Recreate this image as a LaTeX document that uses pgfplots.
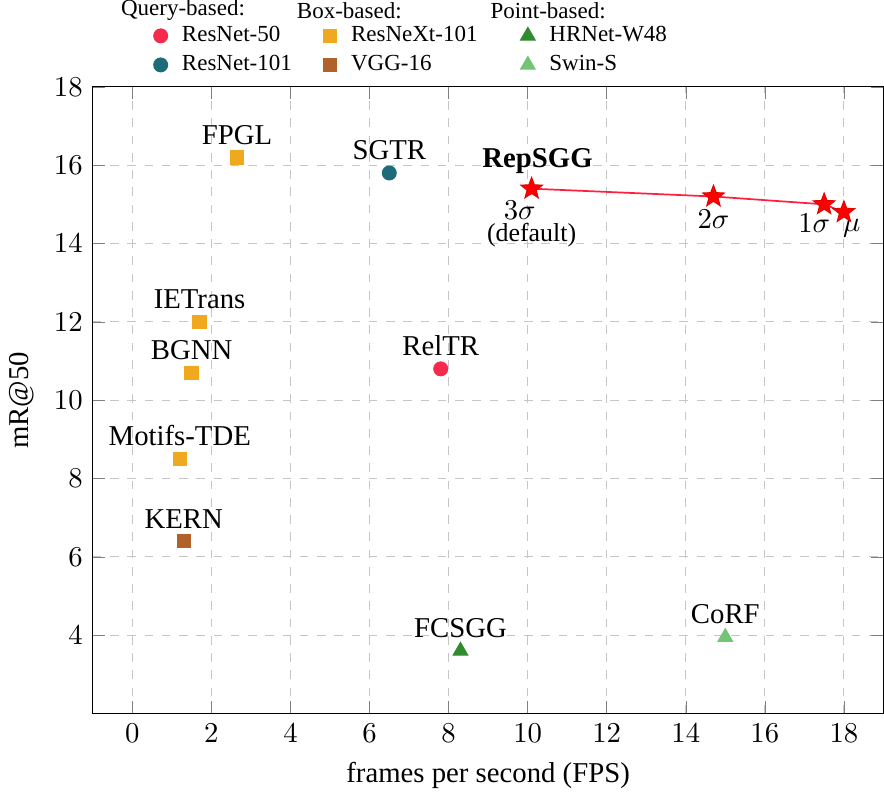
\documentclass[border=0pt]{standalone}
\usepackage{pgfplots}
\usepackage{fontspec}
\setmainfont{Liberation Serif}
\pgfplotsset{compat=1.18}
\definecolor{cRfifty}{HTML}{F52A4C}
\definecolor{cRhund}{HTML}{1E6B79}
\definecolor{cNext}{HTML}{F0A81E}
\definecolor{cVgg}{HTML}{B0622A}
\definecolor{cHr}{HTML}{2F8A30}
\definecolor{cSwin}{HTML}{74C476}
\definecolor{cRep}{HTML}{FF2040}
% filled five-pointed star
\pgfdeclareplotmark{fstar}{%
  \pgfpathmoveto{\pgfpointpolar{90}{\pgfplotmarksize}}%
  \pgfpathlineto{\pgfpointpolar{126}{0.42\pgfplotmarksize}}%
  \pgfpathlineto{\pgfpointpolar{162}{\pgfplotmarksize}}%
  \pgfpathlineto{\pgfpointpolar{198}{0.42\pgfplotmarksize}}%
  \pgfpathlineto{\pgfpointpolar{234}{\pgfplotmarksize}}%
  \pgfpathlineto{\pgfpointpolar{270}{0.42\pgfplotmarksize}}%
  \pgfpathlineto{\pgfpointpolar{306}{\pgfplotmarksize}}%
  \pgfpathlineto{\pgfpointpolar{342}{0.42\pgfplotmarksize}}%
  \pgfpathlineto{\pgfpointpolar{18}{\pgfplotmarksize}}%
  \pgfpathlineto{\pgfpointpolar{54}{0.42\pgfplotmarksize}}%
  \pgfpathclose\pgfusepathqfillstroke}
\begin{document}
\begin{tikzpicture}
\begin{axis}[
  scale only axis, width=275pt, height=218pt,
  xmin=-1, xmax=19, ymin=2, ymax=18, clip=false,
  xtick={0,2,...,18}, ytick={4,6,...,18},
  grid=major, grid style={dashed, gray!45},
  xlabel={frames per second (FPS)}, ylabel={mR@50},
  legend columns=3,
  legend style={draw=none, fill=none, at={(0,1)}, anchor=south west,
    xshift=18pt, yshift=0pt, font=\footnotesize,
    /tikz/every odd column/.style={column sep=3pt},
    /tikz/column 2/.style={column sep=9pt},
    /tikz/column 4/.style={column sep=13pt},
    row sep=-0.7pt},
  legend cell align=left,
  legend image code/.code={\draw[mark repeat=2, mark phase=2, #1] plot coordinates {(0cm,0cm) (0.15cm,0cm) (0.3cm,0cm)};},
  nodes near coords, point meta=explicit symbolic,
  every node near coord/.append style={font=\normalsize, text=black, anchor=south, yshift=1pt},
]
\addplot[only marks, mark=*, mark size=2.4pt, color=cRfifty] coordinates {(7.8,10.8)[RelTR]};
\addlegendentry{ResNet-50}
\addplot[only marks, mark=square*, mark size=2.3pt, color=cNext] coordinates {
  (2.65,16.2)[FPGL] (1.7,12.0)[IETrans] (1.5,10.7)[BGNN] (1.2,8.5)[Motifs-TDE]};
\addlegendentry{ResNeXt-101}
\addplot[only marks, mark=triangle*, mark size=2.9pt, color=cHr] coordinates {(8.3,3.6)[FCSGG]};
\addlegendentry{HRNet-W48}
\addplot[only marks, mark=*, mark size=2.4pt, color=cRhund] coordinates {(6.5,15.8)[SGTR]};
\addlegendentry{ResNet-101}
\addplot[only marks, mark=square*, mark size=2.3pt, color=cVgg] coordinates {(1.3,6.4)[KERN]};
\addlegendentry{VGG-16}
\addplot[only marks, mark=triangle*, mark size=2.9pt, color=cSwin] coordinates {(15.0,3.95)[CoRF]};
\addlegendentry{Swin-S}

\addplot[color=cRep, semithick, mark=fstar, mark size=4pt, nodes near coords={},
  mark options={fill=red, draw=red!90!black, line width=0.3pt}] coordinates {
  (10.1,15.4) (14.7,15.2) (17.5,15.0) (18.0,14.8)};

\node[font=\bfseries] at (axis cs:10.25,16.1) {RepSGG};
\node at (axis cs:9.8,14.85) {$3\sigma$};
\node[font=\small] at (axis cs:10.1,14.22) {(default)};
\node at (axis cs:14.7,14.62) {$2\sigma$};
\node at (axis cs:17.25,14.52) {$1\sigma$};
\node at (axis cs:18.2,14.4) {$\mu$};

\node[font=\footnotesize, anchor=west, inner sep=0pt] at (axis cs:-0.3,19.95) {Query-based:};
\node[font=\footnotesize, anchor=west, inner sep=0pt] at (axis cs:4.15,19.95) {Box-based:};
\node[font=\footnotesize, anchor=west, inner sep=0pt] at (axis cs:9.05,19.95) {Point-based:};
\end{axis}
\end{tikzpicture}
\end{document}
